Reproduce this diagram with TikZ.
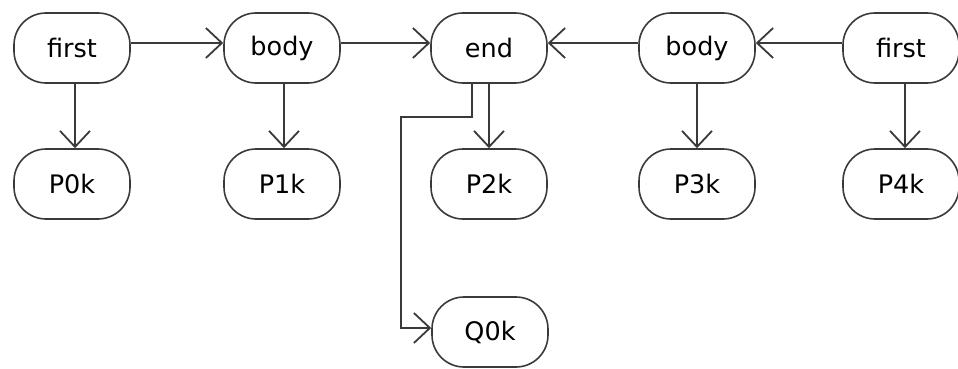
\documentclass[tikz,border=0pt]{standalone}
\usepackage{fontspec}
\setmainfont{DejaVu Sans}
\usetikzlibrary{arrows.meta}
\definecolor{ln}{HTML}{3A3A3A}
\tikzset{
  blk/.style={draw=ln, line width=1.6pt, rounded corners=32pt, minimum width=116pt, minimum height=70pt, inner sep=0pt, font=\fontsize{25.5}{30}\selectfont, text=black},
  conn/.style={draw=ln, line width=1.8pt, -{Straight Barb[length=16pt,width=30pt,line width=1.8pt]}}
}
\begin{document}
\begin{tikzpicture}[x=1pt,y=-1pt]
\useasboundingbox (0,0) rectangle (958,369);
\node[blk] (f1) at (72,48) {first};
\node[blk] (b1) at (282,48) {body};
\node[blk] (e) at (489,48) {end};
\node[blk] (b2) at (697,48) {body};
\node[blk] (f2) at (901,48) {first};
\node[blk] (p0) at (72,184) {P0k};
\node[blk] (p1) at (282,184) {P1k};
\node[blk] (p2) at (489,184) {P2k};
\node[blk] (p3) at (697,184) {P3k};
\node[blk] (p4) at (901,184) {P4k};
\node[blk] (q0) at (490,332) {Q0k};
\coordinate (k1) at (401,117);
\draw[conn] ([yshift=5pt]f1.east) -- ([yshift=5pt]b1.west);
\draw[conn] ([yshift=5pt]b1.east) -- ([yshift=5pt]e.west);
\draw[conn] ([yshift=5pt]b2.west) -- ([yshift=5pt]e.east);
\draw[conn] ([yshift=5pt]f2.west) -- ([yshift=5pt]b2.east);
\draw[conn] ([xshift=3pt]f1.south) -- ([xshift=3pt]p0.north);
\draw[conn] ([xshift=2pt]b1.south) -- ([xshift=2pt]p1.north);
\draw[conn] (e.south) -- (p2.north);
\draw[conn] (b2.south) -- (p3.north);
\draw[conn] ([xshift=4pt]f2.south) -- ([xshift=4pt]p4.north);
\draw[conn] ([xshift=-17pt]e.south) |- (k1) |- ([yshift=4pt]q0.west);
\end{tikzpicture}
\end{document}
